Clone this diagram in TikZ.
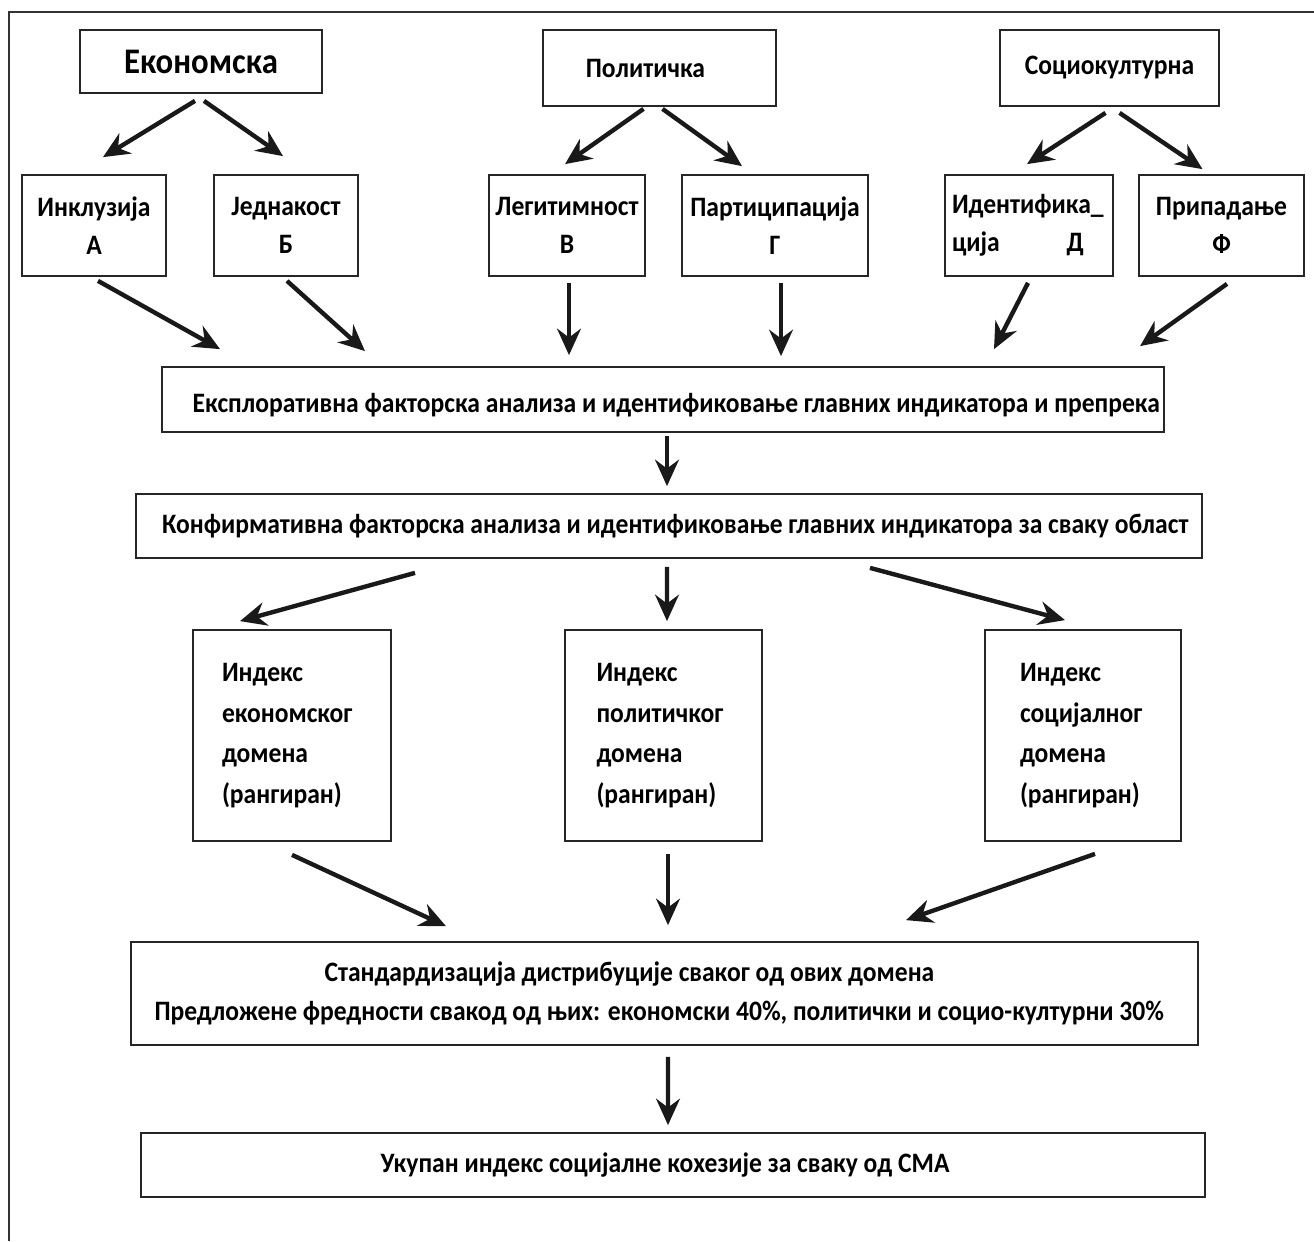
\documentclass[tikz,border=0pt]{standalone}
\usepackage{fontspec}
\setmainfont{Carlito}[FakeStretch=0.91]
\usetikzlibrary{arrows.meta,calc}

\begin{document}
\begin{tikzpicture}[x=0.02cm,y=-0.02cm,
  wh/.style 2 args={minimum width=#1*0.02cm,minimum height=#2*0.02cm},
  box/.style={draw=black!85,line width=1pt,rectangle,inner sep=0pt,align=center,
    font=\bfseries\fontsize{16}{21.5}\selectfont},
  bigtxt/.style={font=\bfseries\fontsize{20.5}{24}\selectfont},
  idxbox/.style={box,align=left,text width=#1*0.02cm,
    font=\bfseries\fontsize{16}{23}\selectfont},
  arr/.style={line width=2.5pt,draw=black!90,
    -{Stealth[length=15pt,width=13.5pt,inset=5pt]}},
]
\useasboundingbox (0,0) rectangle (1314,1241);
\fill[white] (0,0) rectangle (1314,1241);

% outer frame (left and top edges)
\draw[line width=1.1pt,black!80] (9,1241) -- (9,12) -- (1314,12);

% three domains
\node[box,bigtxt,wh={242}{63}] (eko) at (201,61.5) {Економска};
\node[box,wh={233}{76}] (pol) at (659.5,68) {\mbox{Политичка\hspace{16pt}}};
\node[box,wh={219}{76}] (soc) at (1109.5,68) {Социокултурна};

% dimensions of each domain
\node[box,wh={144}{101}] (ink) at (94,225.5) {Инклузија\\А};
\node[box,wh={144}{101}] (jed) at (286,225.5) {Једнакост\\Б};
\node[box,wh={156}{101}] (leg) at (567,225.5) {Легитимност\\В};
\node[box,wh={186}{101}] (par) at (775,225.5) {Партиципација\\Г};
\node[box,wh={168}{101},align=left,text width=154*0.02cm] (idn) at (1029,225.5)
  {Идентифика\_\\ција\hspace{38pt}Д};
\node[box,wh={165}{101}] (pri) at (1221.5,225.5) {Припадање\\Ф};

% factor analyses
\node[box,wh={1002}{65}] (exp) at (663,399.5)
  {\raisebox{-3pt}[\height][\depth]{\mbox{\hspace{15pt}Експлоративна факторска анализа и идентификовање главних индикатора и препрека}}};
\node[box,wh={1066}{64}] (kon) at (669,526)
  {\mbox{\hspace{7pt}Конфирмативна факторска анализа и идентификовање главних индикатора за сваку област}};

% domain indices
\node[idxbox=140,wh={198}{211}] (ie) at (292,735.5)
  {Индекс\\економског\\домена\\(рангиран)};
\node[idxbox=134,wh={197}{211}] (ip) at (663.5,735.5)
  {Индекс\\политичког\\домена\\(рангиран)};
\node[idxbox=126,wh={196}{211}] (is) at (1083,735.5)
  {Индекс\\социјалног\\домена\\(рангиран)};

% standardisation and total index
\node[box,wh={1067}{103},font=\bfseries\fontsize{16}{22}\selectfont] (std) at (664.5,993.5)
  {\mbox{Стандардизација дистрибуције сваког од ових домена\hspace{40pt}}\\
   \mbox{Предложене фредности свакод од њих: економски 40\%, политички и социо-културни 30\%\hspace{6pt}}};
\node[box,wh={1064}{64}] (uk) at (673,1165)
  {\mbox{Укупан индекс социјалне кохезије за сваку од СМА\hspace{9pt}}};

% connectors
\draw[arr] ($(eko.south)+(-6,7)$) -- ($(ink.north)+(9,-17)$);
\draw[arr] ($(eko.south)+(3,7)$) -- ($(jed.north)+(-3,-18)$);
\draw[arr] ($(pol.south)+(-16,2)$) -- ($(leg.north)+(-2,-10)$);
\draw[arr] ($(pol.south)+(3,2)$) -- ($(par.north)+(-33,-8)$);
\draw[arr] ($(soc.south)+(-4,6)$) -- ($(idn.north)+(-2,-10)$);
\draw[arr] ($(soc.south)+(10,6)$) -- ($(pri.north)+(-19,-5)$);

\draw[arr] ($(ink.south)+(4,4)$) -- ($(exp.north)+(-443,-17)$);
\draw[arr] ($(jed.south)+(1,4)$) -- ($(exp.north)+(-298,-15)$);
\draw[arr] ($(leg.south)+(2,6)$) -- ($(exp.north)+(-94,-11)$);
\draw[arr] ($(par.south)+(6,6)$) -- ($(exp.north)+(118,-10)$);
\draw[arr] ($(idn.south)+(-1,6)$) -- ($(exp.north)+(331,-17)$);
\draw[arr] ($(pri.south)+(5.5,7)$) -- ($(exp.north)+(477,-20)$);

\draw[arr] ($(exp.south)+(4,3)$) -- ($(kon.north)+(-2,-7)$);

\draw[arr] ($(kon.south)+(-254,14)$) -- ($(ie.north)+(-52,-8)$);
\draw[arr] ($(kon.south)+(-2,8)$) -- ($(ip.north)+(3.5,-8)$);
\draw[arr] ($(kon.south)+(201,9)$) -- ($(is.north)+(-18,-9)$);

\draw[arr] ($(ie.south)+(0,13)$) -- ($(std.north)+(-218.5,-15)$);
\draw[arr] ($(ip.south)+(4.5,12)$) -- ($(std.north)+(3.5,-16)$);
\draw[arr] ($(is.south)+(12,12)$) -- ($(std.north)+(241.5,-21)$);

\draw[arr] ($(std.south)+(3.5,11)$) -- ($(uk.north)+(-5,-7)$);
\end{tikzpicture}
\end{document}
